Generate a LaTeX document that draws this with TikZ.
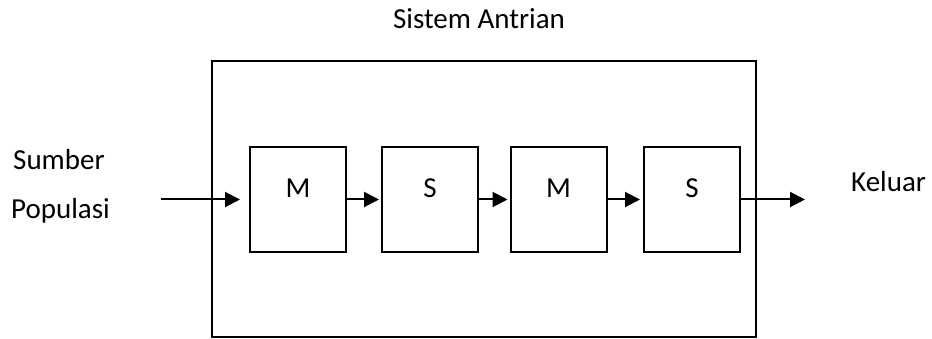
\documentclass[tikz,border=0pt]{standalone}
\usepackage{fontspec}
\setmainfont{Carlito}
\usetikzlibrary{arrows.meta}
\tikzset{
  stage/.style={draw, line width=2pt, minimum width=96pt, minimum height=105pt, inner sep=0pt, text height=18pt, text depth=21pt},
  outerbox/.style={draw, line width=2.5pt, minimum width=544pt, minimum height=276pt, inner sep=0pt},
  flow/.style={line width=2pt, -{Triangle[length=15pt,width=15pt]}},
  lbl/.style={inner sep=0pt, font=\fontsize{29}{35}\selectfont}
}
\begin{document}
\begin{tikzpicture}[x=1pt,y=-1pt]
\useasboundingbox (0,0) rectangle (932,339);
\node[outerbox] (sys) at (484,199) {};
\node[lbl, anchor=base] (title) at (479,29) {Sistem Antrian};
\node[stage, lbl] (m1) at (298,199.5) {M};
\node[stage, lbl] (s1) at (430,199.5) {S};
\node[stage, lbl] (m2) at (558.5,199.5) {M};
\node[stage, lbl] (s2) at (692,199.5) {S};
\node[lbl, anchor=base west] (sumber) at (13,170) {Sumber};
\node[lbl, anchor=base west] (populasi) at (11,219) {Populasi};
\node[lbl, anchor=base west] (keluar) at (851,192) {Keluar};
\coordinate (src) at (161,199.5);
\coordinate (dst) at (805,199.5);
\draw[flow, shorten >=9pt] (src) -- (m1.west);
\draw[flow, shorten >=2pt] (m1.east) -- (s1.west);
\draw[flow, shorten >=2pt] (s1.east) -- (m2.west);
\draw[flow, shorten >=3pt] (m2.east) -- (s2.west);
\draw[flow] (s2.east) -- (dst);
\end{tikzpicture}
\end{document}
